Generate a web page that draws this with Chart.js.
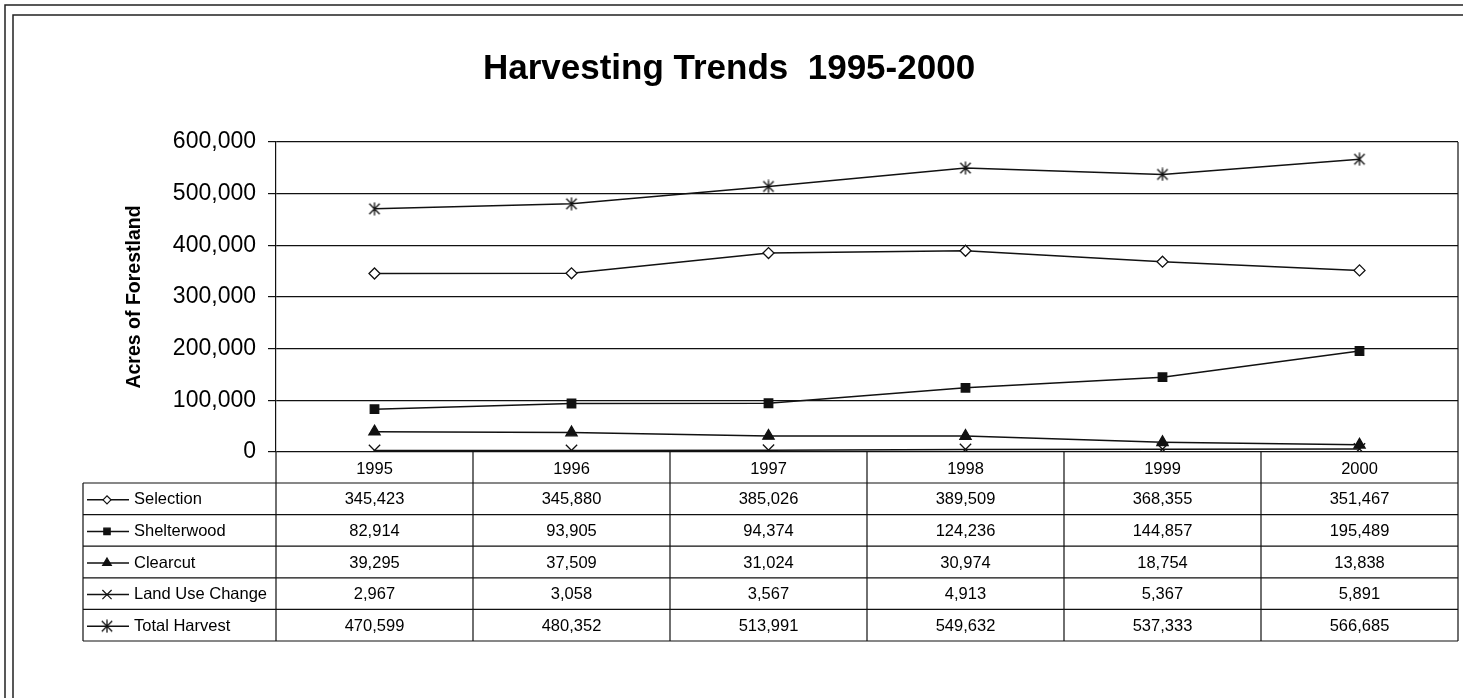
<!DOCTYPE html>
<html>
<head>
<meta charset="utf-8">
<title>Harvesting Trends 1995-2000</title>
<script src="https://cdn.jsdelivr.net/npm/chart.js@4.4.1/dist/chart.umd.min.js"></script>
<style>
  html, body { margin: 0; padding: 0; background: #fff; overflow: hidden; }
  canvas { display: block; }
</style>
</head>
<body>
<canvas id="chart" width="1463" height="698"></canvas>
<script>
// Harvest figures (acres of forestland) by year
const years = ['1995', '1996', '1997', '1998', '1999', '2000'];
const selection = [345423, 345880, 385026, 389509, 368355, 351467];
const shelterwood = [82914, 93905, 94374, 124236, 144857, 195489];
const clearcut = [39295, 37509, 31024, 30974, 18754, 13838];
const landUseChange = [2967, 3058, 3567, 4913, 5367, 5891];
const totalHarvest = [470599, 480352, 513991, 549632, 537333, 566685];
const seriesNames = ['Selection', 'Shelterwood', 'Clearcut', 'Land Use Change', 'Total Harvest'];
const yMin = 0, yMax = 600000, yStep = 100000;
const chartTitle = 'Harvesting Trends  1995-2000';
const yTitle = 'Acres of Forestland';

const INK = '#111';
Chart.defaults.font.family = '"Liberation Sans", Arial, Helvetica, sans-serif';
Chart.defaults.color = '#000';

// Six-armed asterisk marker (X plus a vertical stroke)
function asteriskMarker(size) {
  const c = document.createElement('canvas');
  c.width = c.height = size;
  const g = c.getContext('2d');
  const m = size / 2, r = size / 2 - 0.5, d = r * 0.8;
  g.strokeStyle = INK;
  g.lineWidth = 1.3;
  g.beginPath();
  g.moveTo(m, m - r); g.lineTo(m, m + r);
  g.moveTo(m - d, m - d); g.lineTo(m + d, m + d);
  g.moveTo(m - d, m + d); g.lineTo(m + d, m - d);
  g.stroke();
  return c;
}

const fmt = v => v.toLocaleString('en-US');

function series(label, data, pointStyle, radius, fill) {
  return {
    label, data, pointStyle,
    borderColor: INK, borderWidth: 1.5,
    pointRadius: radius, pointHoverRadius: radius,
    pointBorderColor: INK, pointBorderWidth: 1.3,
    pointBackgroundColor: fill,
    backgroundColor: fill,
    tension: 0, fill: false
  };
}

const datasets = [
  series(seriesNames[0], selection, 'rectRot', 5.5, '#fff'),
  series(seriesNames[1], shelterwood, 'rect', 6, INK),
  series(seriesNames[2], clearcut, 'triangle', 6.5, INK),
  series(seriesNames[3], landUseChange, 'crossRot', 8, INK),
  series(seriesNames[4], totalHarvest, asteriskMarker(14), 7, INK)
];

// Page frame, and the data table drawn beneath the category axis
const tablePlugin = {
  id: 'dataTable',
  beforeDraw(chart) {
    const { ctx, width, height } = chart;
    ctx.save();
    ctx.fillStyle = '#fff';
    ctx.fillRect(0, 0, width, height);
    ctx.strokeStyle = '#222';
    ctx.lineWidth = 1.5;
    ctx.beginPath();
    ctx.moveTo(5, height); ctx.lineTo(5, 5); ctx.lineTo(width, 5);
    ctx.moveTo(13, height); ctx.lineTo(13, 15); ctx.lineTo(width, 15);
    ctx.stroke();
    ctx.restore();
  },
  afterDraw(chart) {
    const { ctx, chartArea: a, scales: { x } } = chart;
    const n = chart.data.labels.length;
    const half = (x.getPixelForValue(1) - x.getPixelForValue(0)) / 2;
    const rows = chart.data.datasets;
    const top = x.bottom;
    const rowH = 31.6;
    const bottom = top + rowH * rows.length;
    const left = 83;

    ctx.save();
    ctx.strokeStyle = INK;
    ctx.lineWidth = 1.2;
    ctx.beginPath();
    for (let r = 0; r <= rows.length; r++) {
      const y = top + r * rowH;
      ctx.moveTo(left, y); ctx.lineTo(a.right, y);
    }
    ctx.moveTo(left, top); ctx.lineTo(left, bottom);
    ctx.moveTo(a.left, a.bottom); ctx.lineTo(a.left, bottom);
    for (let i = 1; i < n; i++) {
      const xx = x.getPixelForValue(i) - half;
      ctx.moveTo(xx, a.bottom); ctx.lineTo(xx, bottom);
    }
    ctx.moveTo(a.right, a.top); ctx.lineTo(a.right, bottom);
    ctx.stroke();

    ctx.font = '16.5px "Liberation Sans", Arial, sans-serif';
    ctx.textBaseline = 'middle';
    rows.forEach((ds, r) => {
      const cy = top + (r + 0.5) * rowH + 1;
      // legend key: line with marker
      ctx.strokeStyle = INK;
      ctx.lineWidth = 1.5;
      ctx.beginPath(); ctx.moveTo(87, cy); ctx.lineTo(129, cy); ctx.stroke();
      ctx.fillStyle = ds.pointBackgroundColor;
      ctx.lineWidth = 1.2;
      Chart.helpers.drawPoint(ctx, {
        pointStyle: ds.pointStyle, rotation: 0,
        radius: Math.max(4, ds.pointRadius - 1.5), borderWidth: 1.2
      }, 107, cy);
      ctx.fillStyle = '#000';
      ctx.textAlign = 'left';
      ctx.fillText(ds.label, 134, cy);
      ctx.textAlign = 'center';
      ds.data.forEach((v, i) => ctx.fillText(fmt(v), x.getPixelForValue(i), cy));
    });
    ctx.restore();
  }
};

new Chart(document.getElementById('chart'), {
  type: 'line',
  data: { labels: years, datasets },
  plugins: [tablePlugin],
  options: {
    responsive: false,
    animation: false,
    events: [],
    layout: { autoPadding: false, padding: { top: 0, right: 5, bottom: 215, left: 0 } },
    plugins: {
      legend: { display: false },
      tooltip: { enabled: false },
      title: {
        display: true,
        text: chartTitle,
        color: '#000',
        font: { size: 35, weight: 'bold' },
        padding: { top: 48, bottom: 52 }
      }
    },
    scales: {
      x: {
        offset: true,
        grid: { display: false },
        border: { display: false },
        ticks: { color: '#000', font: { size: 16.5 }, padding: 0, maxRotation: 0 },
        afterFit(s) { s.height = 31; }
      },
      y: {
        min: yMin, max: yMax,
        ticks: { stepSize: yStep, color: '#000', font: { size: 23 }, padding: 12, callback: v => fmt(v) },
        grid: { color: INK, lineWidth: 1.2, tickLength: 8 },
        border: { color: INK, width: 1.2 },
        title: {
          display: true, text: yTitle, color: '#000',
          font: { size: 19.5, weight: 'bold' },
          padding: { top: 123, bottom: 0 }
        },
        afterFit(s) { s.width = 276; }
      }
    }
  }
});
</script>
</body>
</html>
